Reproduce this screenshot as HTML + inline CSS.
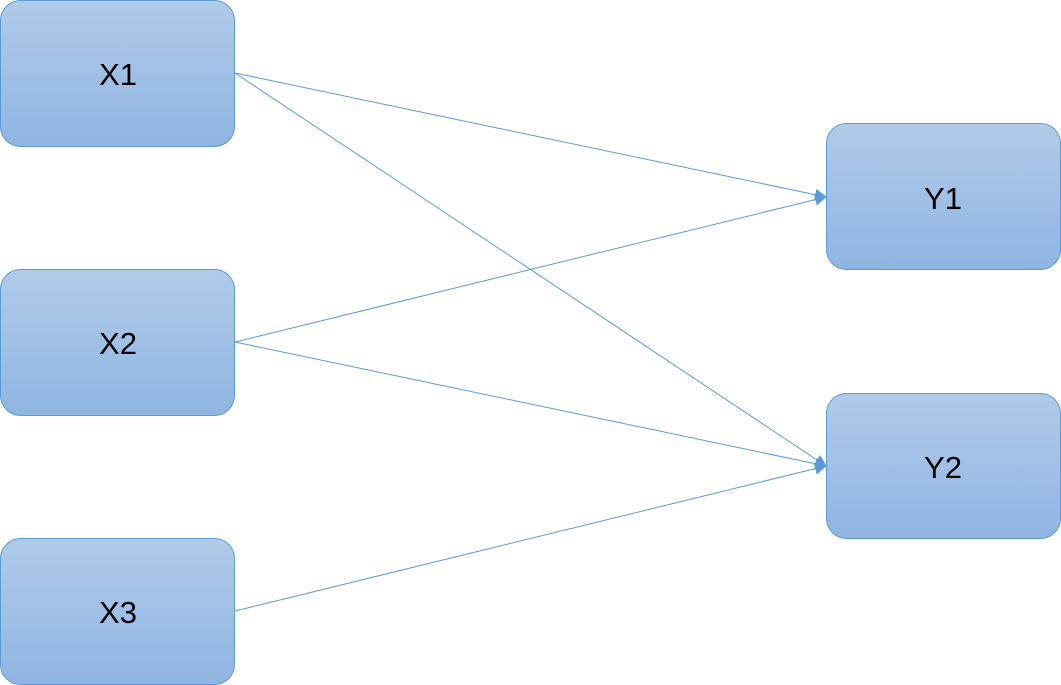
<!DOCTYPE html>
<html><head><style>html,body{margin:0;padding:0;background:#fff;width:1061px;height:685px;overflow:hidden}</style></head>
<body>
<svg width="1061" height="685" viewBox="0 0 1061 685" xmlns="http://www.w3.org/2000/svg">
<defs>
<linearGradient id="g" x1="0" y1="0" x2="0" y2="1">
<stop offset="0" stop-color="#b1cbe9"/><stop offset="1" stop-color="#8fb5e2"/>
</linearGradient>
<marker id="a" markerWidth="12" markerHeight="12" refX="11" refY="6" orient="auto" markerUnits="userSpaceOnUse">
<path d="M0,0 L12,6 L0,12 Z" fill="#5b9bd5"/>
</marker>
</defs>
<g fill="url(#g)" stroke="#5b9bd5" stroke-width="1">
<rect x="0.5" y="0.5" width="234" height="146" rx="20"/>
<rect x="0.5" y="269.5" width="234" height="146" rx="20"/>
<rect x="0.5" y="538.5" width="234" height="146" rx="20"/>
<rect x="826.5" y="123.5" width="234" height="146" rx="20"/>
<rect x="826.5" y="393.5" width="234" height="145" rx="20"/>
</g>
<g stroke="#5b9bd5" stroke-width="1" fill="none" marker-end="url(#a)">
<line x1="235" y1="73" x2="826" y2="197"/>
<line x1="235" y1="73" x2="826" y2="466"/>
<line x1="235" y1="342" x2="826" y2="197"/>
<line x1="235" y1="342" x2="826" y2="466"/>
<line x1="235" y1="611" x2="826" y2="466"/>
</g>
<g font-family="Liberation Sans, sans-serif" font-size="31" fill="#000" text-anchor="middle" transform="translate(0,0)">
<text x="118" y="85" textLength="38" lengthAdjust="spacingAndGlyphs">X1</text>
<text x="118" y="354" textLength="38" lengthAdjust="spacingAndGlyphs">X2</text>
<text x="118" y="623" textLength="38" lengthAdjust="spacingAndGlyphs">X3</text>
<text x="943" y="209" textLength="38" lengthAdjust="spacingAndGlyphs">Y1</text>
<text x="943" y="478" textLength="38" lengthAdjust="spacingAndGlyphs">Y2</text>
</g>
</svg>
</body></html>
